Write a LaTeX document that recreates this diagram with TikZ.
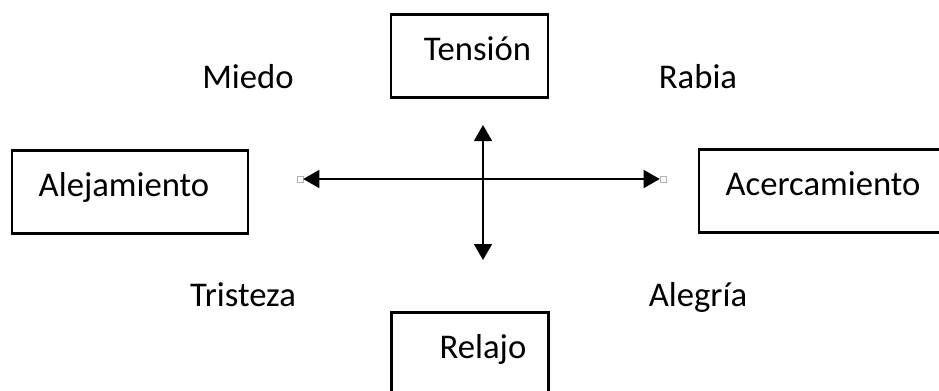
\documentclass[tikz,border=0pt]{standalone}
\usepackage{fontspec}
\setmainfont{Carlito}
\usetikzlibrary{arrows.meta}
\usetikzlibrary{positioning}

\begin{document}
\begin{tikzpicture}[x=0.75pt,y=-0.75pt,>={Triangle[length=12pt,width=13.5pt]},
    every node/.append style={font=\fontsize{26}{31}\selectfont},
    box/.style={draw, line width=1.6pt, minimum width=117.75pt, inner xsep=0pt, inner ysep=17.25pt, text height=17.25pt, text depth=10.5pt},
    handle/.style={draw=gray!60, line width=0.4pt, fill=white, minimum size=4.5pt, inner sep=0pt},
    axis/.style={line width=1.1pt}]
        \useasboundingbox (0,0) rectangle (939,390);

        \node [box] (T) at (469.5,56) {\hspace*{12pt}Tensión};
        \node [box] (R) at (470,354) {\hspace*{19.5pt}Relajo};
        \node [box, minimum width=177pt] (Al) at (130,192) {Alejamiento\hspace*{9pt}};
        \node [box, minimum width=186pt] (Ac) at (823,191) {Acercamiento};

        \node [anchor=base] (miedo) at (248,88) {Miedo};
        \node [anchor=base] (rabia) at (698,88) {Rabia};
        \node [anchor=base] (tristeza) at (243,306) {Tristeza};
        \node [anchor=base] (alegria) at (698,306) {Alegría};

        \node [handle] (hl) at (300,179) {};
        \node [handle] (hr) at (663,179) {};
        \coordinate (up) at (483,125);
        \coordinate (dn) at (483,260);

        \draw[axis, <->] (hl) -- (hr);
        \draw[axis, <->] (up) -- (dn);
    \end{tikzpicture}
\end{document}
